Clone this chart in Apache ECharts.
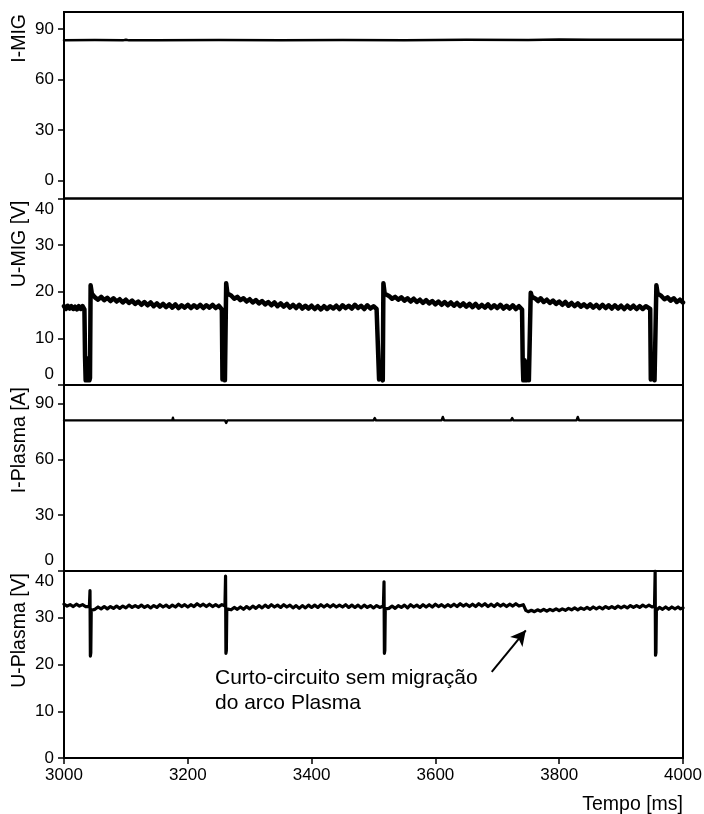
<!DOCTYPE html>
<html>
<head>
<meta charset="utf-8">
<script src="https://cdn.jsdelivr.net/npm/echarts@6/dist/echarts.min.js"></script>
<style>
html,body{margin:0;padding:0;background:#fff;}
#c{width:704px;height:814px;}
</style>
</head>
<body>
<div id="c"></div>
<script>
// ---- data (time in ms) ----
const xTicks = [3000, 3200, 3400, 3600, 3800, 4000];
const iMigTicks = [0, 30, 60, 90];
const iPlasmaTicks = [0, 30, 60, 90];

const iMig = [
  [3000,83.3],[3050,83.4],[3095,83.2],[3100,83.6],[3105,83.2],[3150,83.3],[3250,83.4],
  [3350,83.3],[3450,83.4],[3550,83.3],[3650,83.5],[3750,83.4],[3800,83.7],[3850,83.5],
  [3900,83.6],[3950,83.5],[4000,83.6]
];

const uMig = [
  [3000,16.9],[3003,16.3],[3006,17.0],[3009,16.4],[3012,16.9],[3015,16.3],[3018,16.8],[3021,16.2],
  [3024,16.9],[3027,16.3],[3030,16.9],[3033,16.2],
  [3034,6],[3035,1],[3036,5.8],[3037,1],[3038,5.5],[3039,1.2],[3040,5],[3041,1],[3042,1.5],
  [3043,21.4],[3045,19.6],[3050,18.8],[3055,18.3],[3060,18.9],[3065,18.2],[3070,18.7],[3075,18.0],
  [3080,18.6],[3085,17.9],[3090,18.4],[3095,17.7],[3100,18.3],[3105,17.6],[3110,18.1],[3115,17.4],
  [3120,17.9],[3125,17.2],[3130,17.8],[3135,17.1],[3140,17.7],[3145,16.9],[3150,17.5],[3155,16.8],
  [3160,17.4],[3165,16.7],[3170,17.3],[3175,16.6],[3180,17.3],[3185,16.5],[3190,17.1],[3195,16.6],
  [3200,17.2],[3205,16.5],[3210,17.1],[3215,16.6],[3220,17.2],[3225,16.5],[3230,17.1],[3235,16.6],
  [3240,17.2],[3245,16.5],[3250,17.0],[3255,16.2],
  [3256,1.2],[3258,1],[3259,6],[3260,1],[3261,1.3],
  [3262,21.8],[3264,19.6],[3270,19.2],[3275,18.5],[3280,18.9],[3285,18.2],[3290,18.6],[3295,17.9],
  [3300,18.4],[3305,17.7],[3310,18.2],[3315,17.5],[3320,18.0],[3325,17.3],[3330,17.8],[3335,17.1],
  [3340,17.7],[3345,16.9],[3350,17.5],[3355,16.8],[3360,17.4],[3365,16.6],[3370,17.2],[3375,16.5],
  [3380,17.2],[3385,16.4],[3390,17.0],[3395,16.4],[3400,17.0],[3405,16.3],[3410,16.9],[3415,16.2],
  [3420,16.9],[3425,16.3],[3430,16.9],[3435,16.4],[3440,17.0],[3445,16.3],[3450,17.1],[3455,16.5],
  [3460,17.0],[3465,16.4],[3470,17.2],[3475,16.5],[3480,17.0],[3485,16.3],[3490,17.1],[3495,16.4],
  [3500,16.9],[3505,16.3],[3508,16.6],
  [3509,1.2],[3511,1],[3513,1.5],[3515,1],
  [3516,21.8],[3518,19.6],[3525,19.1],[3530,18.5],[3535,18.9],[3540,18.3],[3545,18.8],[3550,18.1],
  [3555,18.6],[3560,17.9],[3565,18.5],[3570,17.8],[3575,18.3],[3580,17.6],[3585,18.2],[3590,17.5],
  [3595,18.0],[3600,17.3],[3605,17.9],[3610,17.2],[3615,17.8],[3620,17.1],[3625,17.7],[3630,17.0],
  [3635,17.6],[3640,16.9],[3645,17.5],[3650,16.8],[3655,17.4],[3660,16.7],[3665,17.4],[3670,16.6],
  [3675,17.2],[3680,16.6],[3685,17.3],[3690,16.5],[3695,17.1],[3700,16.5],[3705,17.2],[3710,16.4],
  [3715,17.0],[3720,16.4],[3725,17.1],[3730,16.3],[3735,16.9],[3740,16.2],
  [3741,5.5],[3742,1],[3744,5.3],[3745,1],[3747,5],[3748,1],[3750,4.5],[3751,1],[3753,1.2],
  [3754,19.8],[3756,18.9],[3762,18.5],[3766,18.0],[3770,18.6],[3775,17.8],[3780,18.3],[3785,17.6],
  [3790,18.1],[3795,17.4],[3800,17.9],[3805,17.2],[3810,17.8],[3815,17.0],[3820,17.6],[3825,16.9],
  [3830,17.5],[3835,16.8],[3840,17.3],[3845,16.7],[3850,17.3],[3855,16.6],[3860,17.2],[3865,16.5],
  [3870,17.2],[3875,16.5],[3880,17.1],[3885,16.4],[3890,17.1],[3895,16.4],[3900,17.0],[3905,16.3],
  [3910,17.0],[3915,16.4],[3920,17.0],[3925,16.3],[3930,16.9],[3935,16.3],[3940,16.9],[3947,16.3],
  [3948,1.2],[3950,1],[3952,5],[3954,1],[3956,1.3],
  [3957,21.4],[3959,19.6],[3965,19.1],[3970,18.4],[3975,18.8],[3980,18.1],[3985,18.6],[3990,17.8],
  [3995,18.3],[4000,17.7]
];

const iPlasma = [
  [3000,81.0],[3045,81.0],[3047,80.3],[3049,81.0],[3175,81.0],[3176,82.4],[3177,81.0],
  [3260,81.0],[3262,79.6],[3264,81.0],[3500,81.0],[3502,82.2],[3504,81.0],
  [3610,81.0],[3612,82.8],[3614,81.0],[3722,81.0],[3724,82.2],[3726,81.0],
  [3828,81.0],[3830,82.8],[3832,81.0],[4000,81.0]
];

const uPlasma = [
  [3000,32.9],[3005,32.5],[3010,32.8],[3015,32.4],[3020,32.9],[3025,32.5],[3030,32.8],[3035,32.4],
  [3038,32.7],[3041,32.4],
  [3042,35.8],[3042.6,21.8],[3043.3,22.5],[3044,31.6],
  [3050,31.8],[3055,32.3],[3060,31.9],[3065,32.4],[3070,31.9],[3075,32.4],[3080,32.0],[3085,32.5],
  [3090,32.0],[3095,32.5],[3100,32.1],[3105,32.7],[3110,32.2],[3115,32.6],[3120,32.2],[3125,32.7],
  [3130,32.2],[3135,32.6],[3140,32.1],[3145,32.6],[3150,32.2],[3155,32.8],[3160,32.3],[3165,32.7],
  [3170,32.2],[3175,32.7],[3180,32.3],[3185,32.9],[3190,32.4],[3195,32.8],[3200,32.3],[3205,32.8],
  [3210,32.4],[3215,33.0],[3220,32.5],[3225,32.9],[3230,32.4],[3235,32.9],[3240,32.4],[3245,32.8],
  [3250,32.4],[3255,32.8],[3260,32.5],
  [3261,38.9],[3261.6,22.4],[3262.3,23.0],[3263,31.9],
  [3270,31.7],[3275,32.2],[3280,31.8],[3285,32.3],[3290,31.8],[3295,32.4],[3300,31.9],[3305,32.5],
  [3310,32.0],[3315,32.6],[3320,32.1],[3325,32.7],[3330,32.2],[3335,32.8],[3340,32.3],[3345,32.7],
  [3350,32.2],[3355,32.8],[3360,32.3],[3365,32.7],[3370,32.1],[3375,32.6],[3380,32.0],[3385,32.6],
  [3390,32.1],[3395,32.7],[3400,32.2],[3405,32.7],[3410,32.2],[3415,32.8],[3420,32.3],[3425,32.8],
  [3430,32.3],[3435,32.8],[3440,32.3],[3445,32.7],[3450,32.3],[3455,32.8],[3460,32.2],[3465,32.7],
  [3470,32.2],[3475,32.7],[3480,32.1],[3485,32.7],[3490,32.2],[3495,32.6],[3500,32.1],[3505,32.6],
  [3510,32.2],[3516,32.5],
  [3517,37.7],[3517.6,22.4],[3518.3,23.0],[3519,31.9],
  [3525,32.0],[3530,32.5],[3535,32.0],[3540,32.6],[3545,32.2],[3550,32.7],[3555,32.1],[3560,32.8],
  [3565,32.3],[3570,32.7],[3575,32.2],[3580,32.8],[3585,32.3],[3590,32.8],[3595,32.3],[3600,32.9],
  [3605,32.4],[3610,32.8],[3615,32.3],[3620,32.8],[3625,32.4],[3630,32.9],[3635,32.4],[3640,33.0],
  [3645,32.5],[3650,32.9],[3655,32.4],[3660,32.9],[3665,32.4],[3670,33.0],[3675,32.5],[3680,33.0],
  [3685,32.4],[3690,32.9],[3695,32.4],[3700,33.0],[3705,32.5],[3710,32.9],[3715,32.4],[3720,32.9],
  [3725,32.5],[3730,33.0],[3735,32.5],[3742,32.8],
  [3746,31.6],[3750,31.3],[3755,31.6],[3760,31.3],[3765,31.7],[3770,31.4],[3775,31.8],[3780,31.4],
  [3785,31.8],[3790,31.5],[3795,31.9],[3800,31.5],[3805,31.9],[3810,31.6],[3815,32.0],[3820,31.7],
  [3825,32.1],[3830,31.7],[3835,32.1],[3840,31.8],[3845,32.2],[3850,31.8],[3855,32.3],[3860,31.9],
  [3865,32.3],[3870,31.9],[3875,32.4],[3880,32.0],[3885,32.4],[3890,32.0],[3895,32.5],[3900,32.1],
  [3905,32.5],[3910,32.1],[3915,32.6],[3920,32.2],[3925,32.6],[3930,32.2],[3935,32.7],[3940,32.3],
  [3945,32.7],[3950,32.3],[3954,32.5],
  [3955,40.0],[3955.6,22.0],[3956.3,22.5],[3957,31.6],
  [3962,32.2],[3967,31.8],[3972,32.3],[3977,31.8],[3982,32.3],[3987,31.9],[3992,32.3],[3996,31.9],[4000,32.1]
];

// annotation arrow (time, U-Plasma value)
const arrowFrom = [3691, 18.4];
const arrowTo = [3746, 27.3];
const annotationText = 'Curto-circuito sem migração\ndo arco Plasma';

// ---- chart ----
const FONT = '"Liberation Sans", Arial, sans-serif';
const chart = echarts.init(document.getElementById('c'), null, {renderer: 'canvas'});

const gridDefs = [
  {top: 12, height: 186.5},
  {top: 198.5, height: 186.5},
  {top: 385, height: 186},
  {top: 571, height: 187}
];
const grids = gridDefs.map(g => ({
  left: 64, right: 21, top: g.top, height: g.height,
  show: true, borderColor: '#000', borderWidth: 2, backgroundColor: 'transparent',
  outerBoundsMode: 'none', containLabel: false
}));

const xAxes = [0,1,2,3].map(i => ({
  type: 'value', gridIndex: i, min: xTicks[0], max: xTicks[xTicks.length - 1], interval: 200,
  show: i === 3,
  splitLine: {show: false},
  axisLine: {show: true, onZero: false, lineStyle: {color: '#000', width: 2}},
  axisTick: {show: true, length: 6, lineStyle: {color: '#000', width: 1.5}},
  axisLabel: {show: true, color: '#000', fontSize: 17, fontFamily: FONT, margin: 9, formatter: v => String(v)},
  name: i === 3 ? 'Tempo [ms]' : '',
  nameLocation: 'end', nameGap: 0,
  nameTextStyle: {color: '#000', fontSize: 19.5, fontFamily: FONT, align: 'right', verticalAlign: 'top', padding: [37, 0, 0, 0]}
}));

function yAxis(i, name, min, max, extra) {
  return Object.assign({
    type: 'value', gridIndex: i, min: min, max: max,
    splitLine: {show: false},
    axisLine: {show: true, onZero: false, lineStyle: {color: '#000', width: 2}},
    axisTick: {show: true, length: 6, lineStyle: {color: '#000', width: 1.5}},
    name: name, nameLocation: 'end', nameGap: -2, nameRotate: 90,
    nameTextStyle: {color: '#000', fontSize: 19.5, fontFamily: FONT, align: 'right', verticalAlign: 'bottom', padding: [0, 0, 34, 0]}
  }, extra);
}
const labelBase = {color: '#000', fontSize: 17, fontFamily: FONT, margin: 10, lineHeight: 21};

const yAxes = [
  yAxis(0, 'I-MIG', -10.5, 100, {
    axisTick: {show: true, length: 6, customValues: iMigTicks, lineStyle: {color: '#000', width: 1.5}},
    axisLabel: Object.assign({customValues: iMigTicks}, labelBase)
  }),
  yAxis(1, 'U-MIG [V]', 0, 40, {
    interval: 10,
    axisLabel: Object.assign({formatter: v => v === 40 ? '\n40' : (v === 0 ? '0\n' : String(v))}, labelBase)
  }),
  yAxis(2, 'I-Plasma [A]', 0, 100, {
    axisTick: {show: true, length: 6, customValues: iPlasmaTicks, lineStyle: {color: '#000', width: 1.5}},
    axisLabel: Object.assign({customValues: iPlasmaTicks, formatter: v => v === 0 ? '0\n' : String(v)}, labelBase)
  }),
  yAxis(3, 'U-Plasma [V]', 0, 40, {
    interval: 10,
    axisLabel: Object.assign({formatter: v => v === 40 ? '\n40' : String(v)}, labelBase)
  })
];

function lineSeries(i, data, width) {
  return {
    type: 'line', xAxisIndex: i, yAxisIndex: i, data: data,
    showSymbol: false, symbol: 'none', clip: true, animation: false, silent: true,
    lineStyle: {color: '#000', width: width, join: 'round', cap: 'round'}
  };
}

const series = [
  lineSeries(0, iMig, 2.5),
  lineSeries(1, uMig, 4.5),
  lineSeries(2, iPlasma, 2.4),
  Object.assign(lineSeries(3, uPlasma, 3.2), {
    markLine: {
      silent: true, animation: false,
      symbol: ['none', 'arrow'], symbolSize: [12, 15],
      label: {show: false},
      lineStyle: {color: '#000', width: 2, type: 'solid'},
      emphasis: {disabled: true},
      data: [[{coord: arrowFrom}, {coord: arrowTo}]]
    }
  })
];

chart.setOption({
  backgroundColor: '#fff',
  animation: false,
  textStyle: {fontFamily: FONT},
  grid: grids,
  xAxis: xAxes,
  yAxis: yAxes,
  series: series,
  graphic: [{
    type: 'text', left: 215, top: 666, silent: true,
    style: {text: annotationText, fill: '#000', font: '21px ' + FONT, lineHeight: 25}
  }]
});
</script>
</body>
</html>
